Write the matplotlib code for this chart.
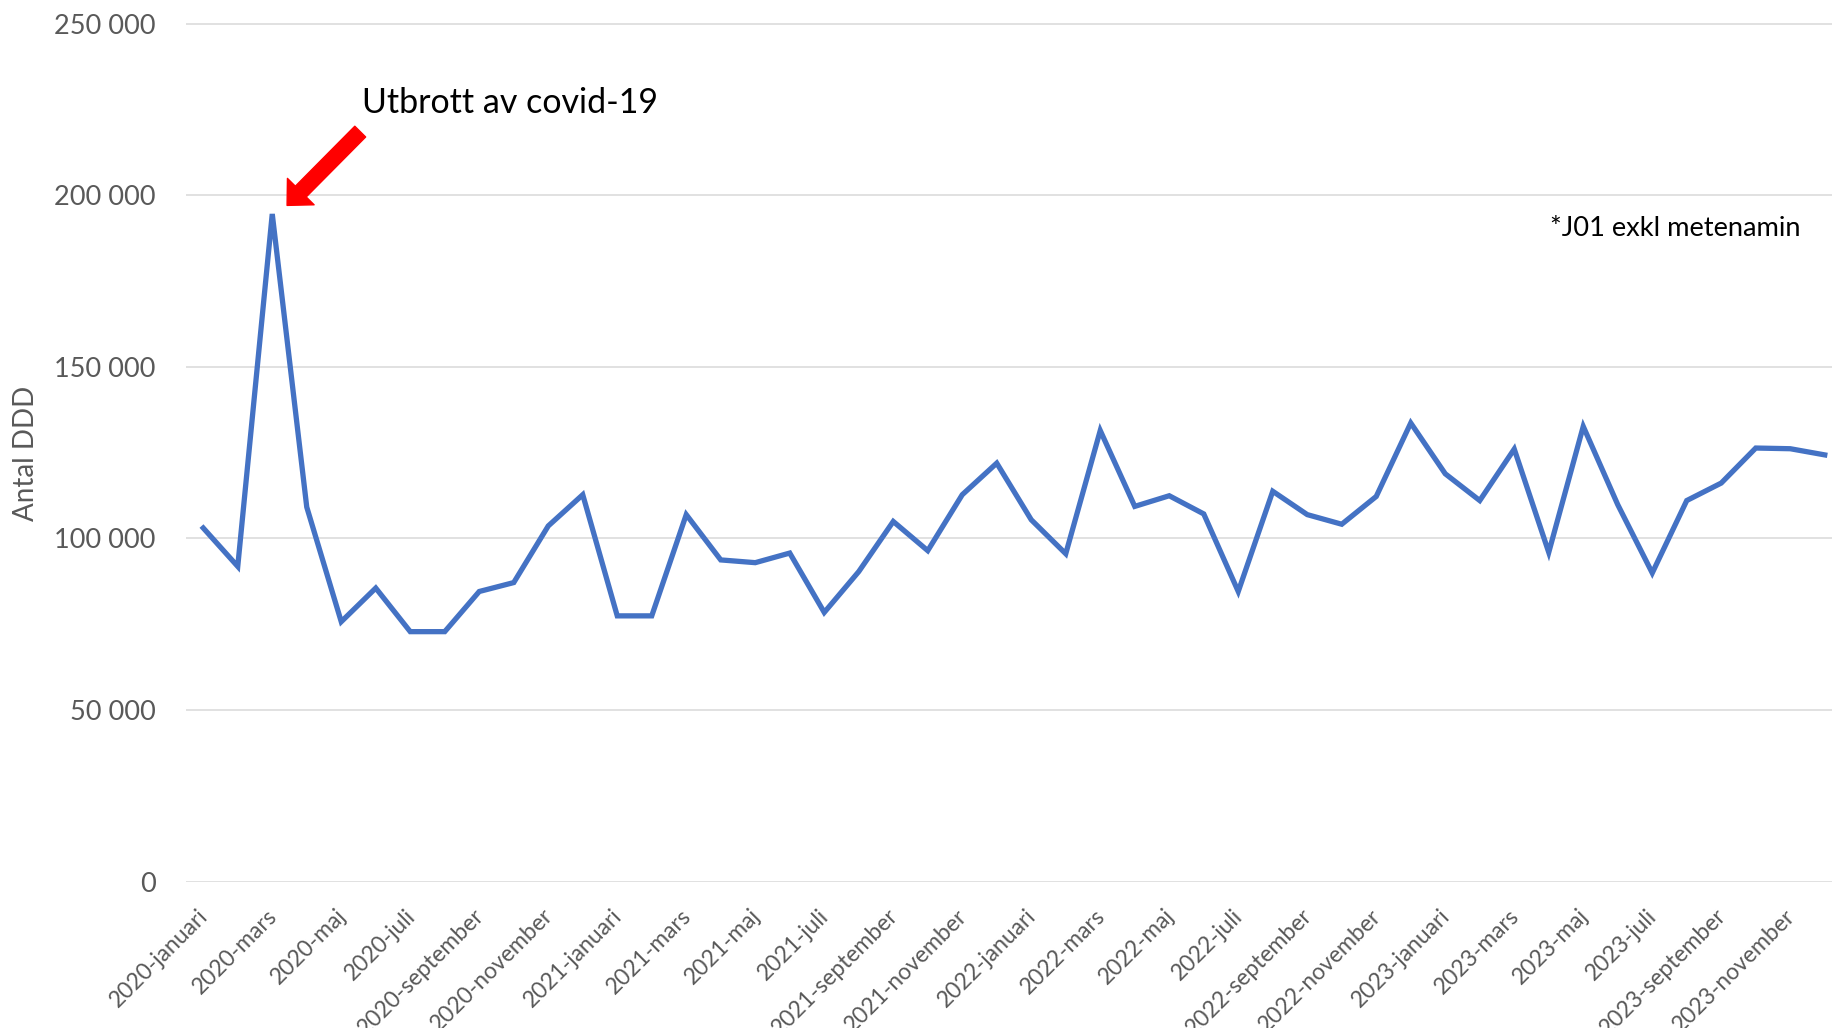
import matplotlib
matplotlib.use("Agg")
import matplotlib.pyplot as plt
import matplotlib.transforms as mtransforms

plt.rcParams['font.family'] = ['Lato', 'DejaVu Sans']

years = [2020, 2021, 2022, 2023]
months = ["januari", "februari", "mars", "april", "maj", "juni", "juli",
          "augusti", "september", "oktober", "november", "december"]
labels = [f"{y}-{m}" for y in years for m in months]

ddd = [
    103000, 91800, 194500, 109100, 75700, 85500, 72800, 72800, 84500, 87100, 103600, 112700,
    77400, 77400, 106900, 93700, 92900, 95700, 78400, 90300, 104900, 96400, 112700, 121900,
    105400, 95500, 131400, 109300, 112400, 107100, 84500, 113700, 106900, 104100, 112200, 133600,
    118800, 111000, 126000, 95900, 132600, 109800, 89900, 111000, 116100, 126300, 126100, 124300,
]

yticks = [0, 50000, 100000, 150000, 200000, 250000]
ytick_labels = ["0", "50 000", "100 000", "150 000", "200 000", "250 000"]

W, H = 1833, 1028
fig = plt.figure(figsize=(W / 100, H / 100), dpi=100)
ax = fig.add_axes([186 / W, 146.5 / H, 1656 / W, 858 / H])

x = list(range(len(ddd)))
ax.plot(x, ddd, color="#4472C4", linewidth=3.8, solid_joinstyle="miter", zorder=3)

ax.set_xlim(-0.5, len(ddd) - 0.5)
ax.set_ylim(0, 250000)
ax.set_yticks(yticks)
ax.set_yticklabels(ytick_labels)
ax.yaxis.grid(True, color="#D9D9D9", linewidth=1.1)
ax.set_axisbelow(True)
for s in ax.spines.values():
    s.set_visible(False)

ax.tick_params(axis="y", length=0, pad=22, labelsize=19.5, labelcolor="#595959")
ax.tick_params(axis="x", length=0, pad=17, labelsize=16.5, labelcolor="#595959")

ax.set_xticks(x[::2])
ax.set_xticklabels(labels[::2], rotation=45, ha="right", va="top", rotation_mode="anchor")
offset = mtransforms.ScaledTranslation(-6 / 100, 0, fig.dpi_scale_trans)
for lab in ax.get_xticklabels():
    lab.set_transform(lab.get_transform() + offset)

fig.text(26 / W, 1 - 453 / H, "Antal DDD", rotation=90, ha="center", va="center",
         fontsize=20, color="#595959")

ax.annotate("", xy=(2.43, 197000), xytext=(4.55, 218500),
            arrowprops=dict(arrowstyle="simple,head_length=0.7,head_width=1.35,tail_width=0.55",
                            color="#FF0000", mutation_scale=20, shrinkA=0, shrinkB=0),
            zorder=4)
fig.text(362 / W, 1 - 103 / H, "Utbrott av covid-19", ha="left", va="center",
         fontsize=24.5, color="black")
fig.text(1801 / W, 1 - 228 / H, "*J01 exkl metenamin", ha="right", va="center",
         fontsize=19.6, color="black")

fig.savefig("out.png", dpi=100)
